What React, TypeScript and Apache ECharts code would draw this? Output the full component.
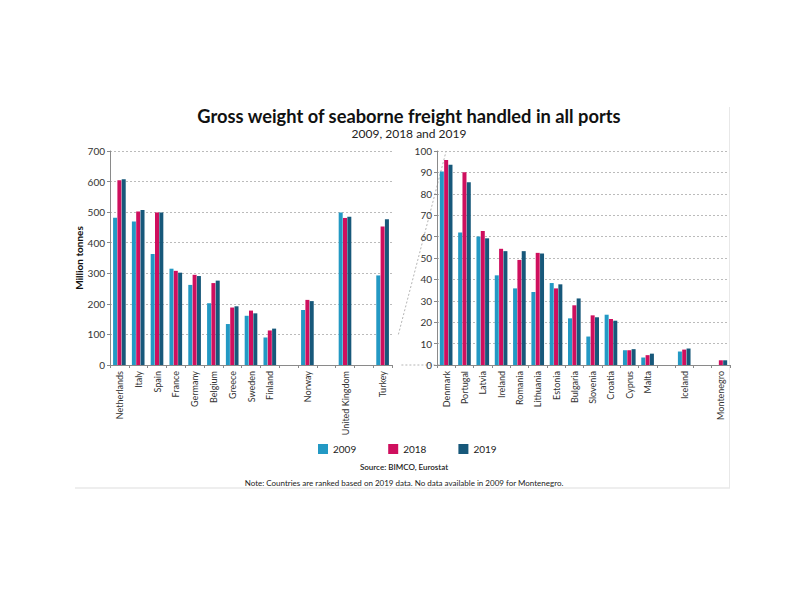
import React, { useEffect, useRef } from "react";
import * as echarts from "echarts";

const leftCategories = ["Netherlands", "Italy", "Spain", "France", "Germany", "Belgium", "Greece", "Sweden", "Finland", "", "Norway", "", "United Kingdom", "", "Turkey"];
const left2009 = [482, 469, 363, 315, 262, 202, 134, 161, 90, null, 180, null, 499, null, 293];
const left2018 = [604, 502, 499, 308, 295, 268, 188, 178, 113, null, 213, null, 481, null, 453];
const left2019 = [608, 507, 499, 302, 291, 276, 192, 169, 119, null, 209, null, 485, null, 477];

const rightCategories = ["Denmark", "Portugal", "Latvia", "Ireland", "Romania", "Lithuania", "Estonia", "Bulgaria", "Slovenia", "Croatia", "Cyprus", "Malta", "", "Iceland", "", "Montenegro"];
const right2009 = [90.4, 61.9, 60.0, 41.9, 35.8, 34.1, 38.3, 21.8, 13.3, 23.5, 6.9, 3.5, null, 6.3, null, null];
const right2018 = [95.8, 90.1, 62.6, 54.3, 49.1, 52.4, 35.8, 27.9, 23.2, 21.5, 6.9, 4.6, null, 7.2, null, 2.2];
const right2019 = [93.6, 85.4, 59.2, 53.2, 53.2, 52.1, 37.7, 31.1, 22.3, 20.7, 7.4, 5.3, null, 7.7, null, 2.2];

const seriesNames = ["2009", "2018", "2019"];
const colors = ["#2399c4", "#cf0f5e", "#17587a"];

const FONT = "Lato, 'Open Sans', sans-serif";

export default function App() {
  const ref = useRef<HTMLDivElement>(null);
  useEffect(() => {
    if (!ref.current) return;
    const chart = echarts.init(ref.current, undefined, { renderer: "svg" });
    const axisLabel = { color: "#333", fontSize: 10, fontFamily: FONT };
    const xAxisCommon = {
      type: "category" as const,
      axisLine: { lineStyle: { color: "#8a8a8a" } },
      axisTick: { show: true, length: 3, lineStyle: { color: "#8a8a8a" } },
      axisLabel: { ...axisLabel, fontSize: 9, rotate: 90, interval: 0, margin: 6 },
    };
    const yAxisCommon = {
      type: "value" as const,
      axisLine: { show: true, lineStyle: { color: "#8a8a8a" } },
      axisTick: { show: true, length: 3, lineStyle: { color: "#8a8a8a" } },
      axisLabel: { ...axisLabel, margin: 5 },
      splitLine: { lineStyle: { color: "#bbbbbb", type: [2, 2] as any, width: 1 } },
    };
    const datasets = [
      [left2009, left2018, left2019],
      [right2009, right2018, right2019],
    ];
    const series: any[] = [];
    datasets.forEach((set, gi) => {
      set.forEach((data, si) => {
        series.push({
          type: "bar",
          name: seriesNames[si],
          xAxisIndex: gi,
          yAxisIndex: gi,
          data,
          barWidth: 4,
          barGap: "8%",
          itemStyle: { color: colors[si] },
        });
      });
    });
    chart.setOption({
      animation: false,
      textStyle: { fontFamily: FONT },
      title: {
        text: "Gross weight of seaborne freight handled in all ports",
        subtext: "2009, 2018 and 2019",
        left: 404,
        textAlign: "center",
        top: 102,
        itemGap: 2,
        textStyle: { fontSize: 18.3, fontWeight: "bold", color: "#111", fontFamily: FONT },
        subtextStyle: { fontSize: 12, color: "#222", fontFamily: FONT },
      },
      legend: {
        data: seriesNames,
        top: 439,
        left: 313,
        itemWidth: 10,
        itemHeight: 10,
        itemGap: 32,
        icon: "rect",
        textStyle: { fontSize: 10, color: "#222", fontFamily: FONT },
      },
      grid: [
        { left: 110, top: 151, width: 282, height: 214 },
        { left: 437, top: 151, width: 293, height: 214 },
      ],
      xAxis: [
        { ...xAxisCommon, gridIndex: 0, data: leftCategories },
        { ...xAxisCommon, gridIndex: 1, data: rightCategories },
      ],
      yAxis: [
        {
          ...yAxisCommon,
          gridIndex: 0,
          min: 0,
          max: 700,
          interval: 100,
          name: "Million tonnes",
          nameLocation: "middle",
          nameGap: 21,
          nameTextStyle: { fontSize: 10, fontWeight: "bold", color: "#111", fontFamily: FONT },
        },
        { ...yAxisCommon, gridIndex: 1, min: 0, max: 100, interval: 10 },
      ],
      series,
    });

    const pLeftTop = chart.convertToPixel({ gridIndex: 0 } as any, [leftCategories.length - 0.5, 100]) as number[];
    const pLeftBase = chart.convertToPixel({ gridIndex: 0 } as any, [leftCategories.length - 0.5, 0]) as number[];
    const pRightTop = chart.convertToPixel({ gridIndex: 1 } as any, [-0.5, 100]) as number[];
    const pRightBase = chart.convertToPixel({ gridIndex: 1 } as any, [-0.5, 0]) as number[];
    const zoomStyle = { stroke: "#b5b5b5", lineWidth: 1, lineDash: [2, 2] };

    chart.setOption({
      graphic: [
        {
          type: "line",
          shape: { x1: pLeftTop[0] - 3, y1: pLeftTop[1], x2: pRightTop[0], y2: pRightTop[1] },
          style: zoomStyle,
          silent: true,
        },
        {
          type: "line",
          shape: { x1: pLeftBase[0], y1: pLeftBase[1], x2: pRightBase[0], y2: pRightBase[1] },
          style: zoomStyle,
          silent: true,
        },
        {
          type: "text",
          x: 404,
          y: 463,
          style: { text: "Source: BIMCO, Eurostat", fontSize: 8, fontWeight: 600, fill: "#222", fontFamily: FONT, textAlign: "center" },
        },
        {
          type: "text",
          x: 404,
          y: 479,
          style: {
            text: "Note: Countries are ranked based on 2019 data. No data available in 2009 for Montenegro.",
            fontSize: 8,
            fill: "#222",
            fontFamily: FONT,
            textAlign: "center",
          },
        },
        {
          type: "line",
          shape: { x1: 75, y1: 488, x2: 730, y2: 488 },
          style: { stroke: "#dddddd", lineWidth: 1 },
          silent: true,
        },
        {
          type: "line",
          shape: { x1: 729.5, y1: 107, x2: 729.5, y2: 488 },
          style: { stroke: "#e8e8e8", lineWidth: 1 },
          silent: true,
        },
      ],
    });
    return () => chart.dispose();
  }, []);
  return (
    <div
      ref={ref}
      style={{ position: "fixed", left: 0, top: 0, width: 800, height: 600, background: "#fff" }}
    />
  );
}
